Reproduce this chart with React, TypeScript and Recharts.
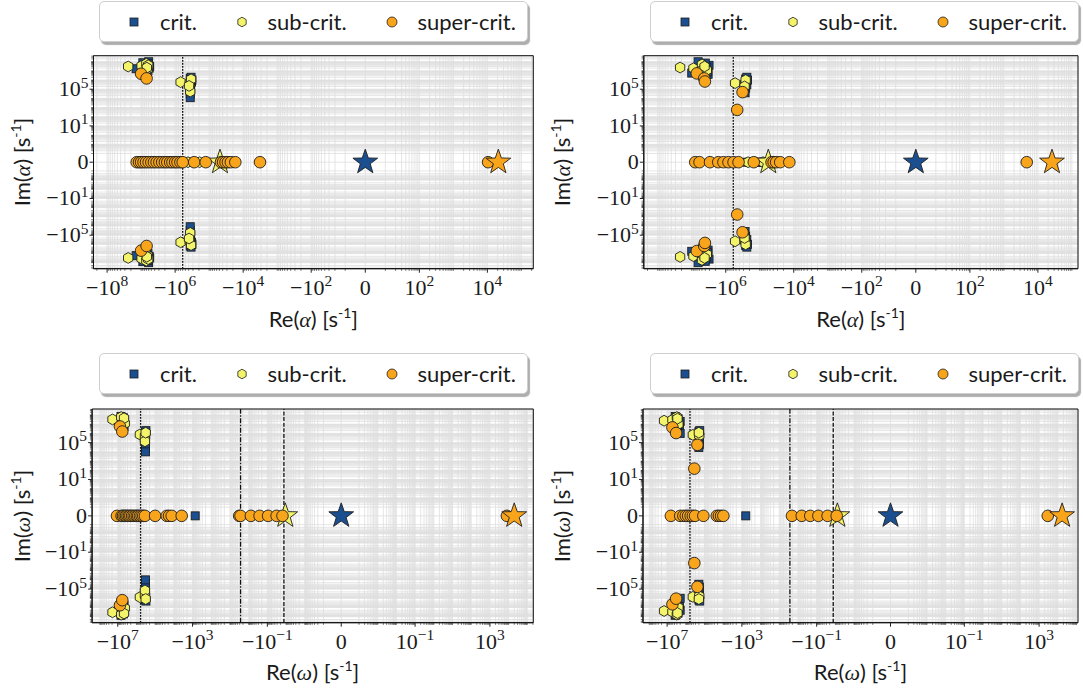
import React from "react";
import { ScatterChart, Scatter, XAxis, YAxis, CartesianGrid, ReferenceLine, ReferenceArea } from "recharts";

type Pt = [number, number];

const categories = ["crit.", "sub-crit.", "super-crit."];

// top left: alpha, first case
const alphaACrit: Pt[] = [
  [-1.4e7, 1.7e7], [-8.9e6, 7.6e7], [-7.2e6, 2.8e7], [-6.3e6, 1e7], [-7.8e6, 4.8e6], [-6e6, 9.8e7], [-6.6e6, 4.5e7], [-5.8e6, 2e7],
  [-7e6, 3.5e7], [-6.8e6, 1.5e7], [-6.2e6, 6e7], [-7.4e6, 7e6], [-5.6e6, 3e7], [-6.4e6, 2.2e7],
  [-1.4e7, -1.7e7], [-8.9e6, -7.6e7], [-7.2e6, -2.8e7], [-6.3e6, -1e7], [-7.8e6, -4.8e6], [-6e6, -9.8e7], [-6.6e6, -4.5e7], [-5.8e6, -2e7],
  [-7e6, -3.5e7], [-6.8e6, -1.5e7], [-6.2e6, -6e7], [-7.4e6, -7e6], [-5.6e6, -3e7], [-6.4e6, -2.2e7],
  [-3.6e5, 1.5e6], [-3.4e5, 8e5], [-3.6e5, 3e5], [-3.5e5, 1e5], [-3.6e5, 3e4], [-3.6e5, 1.2e4], [-3.3e5, 6e5],
  [-3.4e5, 2e6], [-3.2e5, 1e6], [-3.5e5, 4.5e5],
  [-3.6e5, -1.5e6], [-3.4e5, -8e5], [-3.6e5, -3e5], [-3.5e5, -1e5], [-3.6e5, -3e4], [-3.6e5, -1.2e4], [-3.3e5, -6e5],
  [-3.4e5, -2e6], [-3.2e5, -1e6], [-3.5e5, -4.5e5],
  [-5e5, 0], [-4e5, 0], [-3.5e5, 0],
];
const alphaASub: Pt[] = [
  [-2.4e7, 3e7], [-9.7e6, 3.5e7], [-7e6, 6e7], [-6.5e6, 1.5e7], [-7.5e6, 8e6], [-6.2e6, 4e7], [-6.8e6, 2.2e7],
  [-2.4e7, -3e7], [-9.7e6, -3.5e7], [-7e6, -6e7], [-6.5e6, -1.5e7], [-7.5e6, -8e6], [-6.2e6, -4e7], [-6.8e6, -2.2e7],
  [-6.9e5, 5.9e5], [-3.7e5, 4.7e5], [-3.6e5, 5.6e4], [-3.4e5, 1.2e6], [-3.9e5, 2.3e5],
  [-6.9e5, -5.9e5], [-3.7e5, -4.7e5], [-3.6e5, -5.6e4], [-3.4e5, -1.2e6], [-3.9e5, -2.3e5],
  [-4.2e5, 0], [-1.9e5, 0],
];
const alphaASuper: Pt[] = [
  [-1e7, 4.8e6], [-6.9e6, 1.5e6], [-1e7, -4.8e6], [-6.9e6, -1.5e6],
  [-1.35e7, 0], [-1.15e7, 0], [-1e7, 0], [-8.5e6, 0], [-7.2e6, 0], [-6e6, 0], [-5e6, 0], [-4.2e6, 0],
  [-3.5e6, 0], [-2.9e6, 0], [-2.4e6, 0], [-2e6, 0], [-1.7e6, 0], [-1.4e6, 0], [-1.2e6, 0], [-1e6, 0],
  [-8.5e5, 0], [-7e5, 0], [-6e5, 0], [-2.75e5, 0], [-1.26e5, 0], [-4.5e4, 0], [-3.9e4, 0], [-3.3e4, 0],
  [-2.8e4, 0], [-2.3e4, 0], [-1.7e4, 0], [-3.2e3, 0], [1.05e4, 0],
];
const alphaAStars: Pt[] = [[0, 0], [-4.8e4, 0], [2.1e4, 0]];

// top right: alpha, second case
const alphaBCrit: Pt[] = [
  [-1e7, 5.7e6], [-5.6e6, 6.4e7], [-4.1e6, 1.8e7], [-3.3e6, 4.2e6], [-6.5e6, 9.8e7], [-3.1e6, 4e7], [-4.8e6, 3e7],
  [-4.5e6, 5e7], [-3.6e6, 2.5e7], [-5.2e6, 1.2e7], [-3.4e6, 8e6], [-4e6, 7e7],
  [-1e7, -5.7e6], [-5.6e6, -6.4e7], [-4.1e6, -1.8e7], [-3.3e6, -4.2e6], [-6.5e6, -9.8e7], [-3.1e6, -4e7], [-4.8e6, -3e7],
  [-4.5e6, -5e7], [-3.6e6, -2.5e7], [-5.2e6, -1.2e7], [-3.4e6, -8e6], [-4e6, -7e7],
  [-2.6e5, 1.3e6], [-2.5e5, 7e5], [-2.6e5, 1.3e5], [-2.7e5, 4e4], [-2.4e5, 3e5], [-2.4e5, 2e6], [-2.3e5, 1e6],
  [-2.6e5, -1.3e6], [-2.5e5, -7e5], [-2.6e5, -1.3e5], [-2.7e5, -4e4], [-2.4e5, -3e5], [-2.4e5, -2e6], [-2.3e5, -1e6],
  [-2.4e5, 0], [-2e5, 0], [-1.1e5, 0], [-9e4, 0], [-7.5e4, 0], [-6.5e4, 0],
];
const alphaBSub: Pt[] = [
  [-2.2e7, 2.3e7], [-8.9e6, 1.9e7], [-5e6, 5e7], [-3.6e6, 1.2e7], [-6e6, 8e6], [-4.2e6, 3e7],
  [-2.2e7, -2.3e7], [-8.9e6, -1.9e7], [-5e6, -5e7], [-3.6e6, -1.2e7], [-6e6, -8e6], [-4.2e6, -3e7],
  [-5.3e5, 4.6e5], [-2.7e5, 4.6e5], [-2.6e5, 1e6], [-2.8e5, 2e5],
  [-5.3e5, -4.6e5], [-2.7e5, -4.6e5], [-2.6e5, -1e6], [-2.8e5, -2e5],
  [-2.2e5, 0], [-8e4, 0],
];
const alphaBSuper: Pt[] = [
  [-7.1e6, 5.3e6], [-4.3e6, 1.5e6], [-4.1e6, 6.9e5], [-7.1e6, -5.3e6], [-4.3e6, -1.5e6], [-4.1e6, -6.9e5],
  [-3.2e5, 4.8e4], [-4.6e5, 560], [-3.2e5, -4.8e4], [-4.6e5, -560],
  [-7.9e6, 0], [-5.9e6, 0], [-2.9e6, 0], [-1.66e6, 0], [-1.17e6, 0], [-8.3e5, 0], [-5.9e5, 0], [-4.2e5, 0],
  [-1.5e5, 0], [-4.5e4, 0], [-3.9e4, 0], [-3.3e4, 0], [-2.5e4, 0], [-1.35e4, 0], [4.7e3, 0],
];
const alphaBStars: Pt[] = [[0, 0], [-5.6e4, 0], [2.6e4, 0]];

// bottom left: omega, first case
const omegaACrit: Pt[] = [
  [-6.7e6, 7e7], [-4.6e6, 2e7], [-6e6, 4e7], [-4.6e6, 5.7e6], [-5.5e6, 1e7], [-9e6, 2.5e7],
  [-5e6, 5e7], [-4.4e6, 3e7], [-5.8e6, 1.6e7], [-4.8e6, 8e6],
  [-6.7e6, -7e7], [-4.6e6, -2e7], [-6e6, -4e7], [-4.6e6, -5.7e6], [-5.5e6, -1e7], [-9e6, -2.5e7],
  [-5e6, -5e7], [-4.4e6, -3e7], [-5.8e6, -1.6e7], [-4.8e6, -8e6],
  [-3.3e5, 1.5e6], [-3.2e5, 8e5], [-3.3e5, 3e5], [-3.3e5, 8e4], [-3.3e5, 2.5e4], [-3.3e5, 1e4], [-3.1e5, 2e6],
  [-3.3e5, -1.5e6], [-3.2e5, -8e5], [-3.3e5, -3e5], [-3.3e5, -8e4], [-3.3e5, -2.5e4], [-3.3e5, -1e4], [-3.1e5, -2e6],
  [-720, 0],
];
const omegaASub: Pt[] = [
  [-1.9e7, 3.3e7], [-5e6, 3.3e7], [-6.5e6, 6e7], [-4.2e6, 1.2e7], [-4.6e6, 4.5e7],
  [-1.9e7, -3.3e7], [-5e6, -3.3e7], [-6.5e6, -6e7], [-4.2e6, -1.2e7], [-4.6e6, -4.5e7],
  [-6.5e5, 7.6e5], [-3.5e5, 5e5], [-3.5e5, 1.4e5], [-3.2e5, 1.2e6],
  [-6.5e5, -7.6e5], [-3.5e5, -5e5], [-3.5e5, -1.4e5], [-3.2e5, -1.2e6],
];
const omegaASuper: Pt[] = [
  [-7.6e6, 5.7e6], [-5.7e6, 1.6e6], [-7.6e6, -5.7e6], [-5.7e6, -1.6e6],
  [-1.1e7, 0], [-6.2e6, 0], [-5.2e6, 0], [-4.3e6, 0], [-3.6e6, 0], [-3e6, 0], [-2.5e6, 0], [-2.1e6, 0],
  [-1.7e6, 0], [-1.4e6, 0], [-1.15e6, 0], [-9.5e5, 0], [-8e5, 0], [-6.5e5, 0], [-5.3e5, 0], [-4.3e5, 0],
  [-3.5e5, 0], [-1e5, 0], [-2.4e4, 0], [-1.8e4, 0], [-1.3e4, 0], [-3.8e3, 0],
  [-3.2, 0], [-2.7, 0], [-0.76, 0], [-0.26, 0], [-0.091, 0], [-0.032, 0], [-0.0155, 0], [8.1e3, 0],
];
const omegaAStars: Pt[] = [[0, 0], [-0.011, 0], [2e4, 0]];

// bottom right: omega, second case
const omegaBCrit: Pt[] = [
  [-3.7e6, 7e7], [-2e6, 2e7], [-2.6e6, 4e7], [-5.4e6, 1e7], [-2.2e6, 4.5e6], [-2e6, 1e6],
  [-3e6, 3e7], [-2.4e6, 1.2e7], [-3.3e6, 5e7], [-2.8e6, 7e6],
  [-3.7e6, -7e7], [-2e6, -2e7], [-2.6e6, -4e7], [-5.4e6, -1e7], [-2.2e6, -4.5e6], [-2e6, -1e6],
  [-3e6, -3e7], [-2.4e6, -1.2e7], [-3.3e6, -5e7], [-2.8e6, -7e6],
  [-2e5, 1.5e6], [-1.9e5, 5e5], [-1.9e5, 1.5e5], [-1.9e5, 6e4], [-2e5, 3e4], [-1.8e5, 2e6],
  [-2e5, -1.5e6], [-1.9e5, -5e5], [-1.9e5, -1.5e5], [-1.9e5, -6e4], [-2e5, -3e4], [-1.8e5, -2e6],
  [-620, 0],
];
const omegaBSub: Pt[] = [
  [-1.45e7, 2.4e7], [-5.2e6, 3e7], [-3e6, 6e7], [-2.5e6, 1e7], [-2.8e6, 4e7],
  [-1.45e7, -2.4e7], [-5.2e6, -3e7], [-3e6, -6e7], [-2.5e6, -1e7], [-2.8e6, -4e7],
  [-4.2e5, 7e5], [-1.9e5, 6e5], [-2e5, 1.2e6],
  [-4.2e5, -7e5], [-1.9e5, -6e5], [-2e5, -1.2e6],
];
const omegaBSuper: Pt[] = [
  [-5.2e6, 4.5e6], [-3.3e6, 1.1e6], [-5.2e6, -4.5e6], [-3.3e6, -1.1e6],
  [-2.4e5, 5.7e4], [-3.5e5, 150], [-2.4e5, -5.7e4], [-3.5e5, -150],
  [-6.3e6, 0], [-2e6, 0], [-1.35e6, 0], [-1e6, 0], [-7.5e5, 0], [-5.5e5, 0], [-4.2e5, 0], [-3.2e5, 0],
  [-1.15e5, 0], [-2.2e4, 0], [-1.7e4, 0], [-1.3e4, 0], [-9.8e3, 0],
  [-2.1, 0], [-0.63, 0], [-0.22, 0], [-0.081, 0], [-0.026, 0], [-0.0085, 0], [2.9e3, 0],
];
const omegaBStars: Pt[] = [[0, 0], [-0.0078, 0], [1.7e4, 0]];

const alphaLines = [-6e5];
const omegaLines = [-6e5, -2.7, -0.013];
const lineDash = ["1.6 1.4", "5 1.5 1.5 1.5", "4 1.6"];

const alphaXLabelsA = [-1e8, -1e6, -1e4, -1e2, 0, 1e2, 1e4];
const alphaXLabelsB = [-1e6, -1e4, -1e2, 0, 1e2, 1e4];
const omegaXLabels = [-1e7, -1e3, -1e-1, 0, 1e-1, 1e3];
const imLabels = [1e5, 10, 0, -10, -1e5];

const BLUE = "#1b4f8f";
const YELLOW = "#f4f46a";
const ORANGE = "#f9a51b";
const EDGE = "#1e1e1e";
const colors = [BLUE, YELLOW, ORANGE];

function symlog(c: number, L: number) {
  return (v: number) => {
    const a = Math.abs(v);
    if (a < c) return (v / c) * L;
    return Math.sign(v) * (L + Math.log10(a / c));
  };
}
const txAlpha = symlog(10, 0.59);
const txOmega = symlog(1e-4, 0.95);
const tyIm = symlog(0.01, 0.95);

type TickInfo = { d: number; v: number; major: boolean };

function buildTicks(tf: (v: number) => number, decades: [number, number], labels: number[], dom: [number, number]) {
  const map = new Map<string, TickInfo>();
  const add = (v: number, major: boolean) => {
    const d = tf(v);
    if (d < dom[0] - 1e-9 || d > dom[1] + 1e-9) return;
    const key = d.toFixed(5);
    if (major || !map.has(key)) map.set(key, { d, v, major });
  };
  for (let k = decades[0]; k <= decades[1]; k++) {
    for (let m = 1; m <= 9; m++) {
      add(m * Math.pow(10, k), false);
      add(-m * Math.pow(10, k), false);
    }
  }
  labels.forEach((v) => add(v, true));
  return map;
}

function TickText({ x, y, v, anchor }: { x: number; y: number; v: number; anchor: "middle" | "end" }) {
  const style = { fontFamily: "'Liberation Serif', serif", fontSize: 22, fill: "#1a1a1a" };
  if (v === 0) {
    return <text x={x} y={y} textAnchor={anchor} style={style}>0</text>;
  }
  const e = Math.round(Math.log10(Math.abs(v)));
  return (
    <text x={x} y={y} textAnchor={anchor} style={style}>
      <tspan>{v < 0 ? "\u2212" : ""}10</tspan>
      <tspan dy={-8.5} fontSize={15.5}>{e < 0 ? "\u2212" + -e : String(e)}</tspan>
    </text>
  );
}

const squareShape = (p: any) => (
  <rect x={p.cx - 4} y={p.cy - 4} width={8} height={8} fill={BLUE} stroke={EDGE} strokeWidth={0.9} />
);
const hexPoints = (cx: number, cy: number, r: number) =>
  [0, 1, 2, 3, 4, 5].map((i) => {
    const a = ((-90 + 60 * i) * Math.PI) / 180;
    return `${cx + r * Math.cos(a)},${cy + r * Math.sin(a)}`;
  }).join(" ");
const hexShape = (p: any) => (
  <polygon points={hexPoints(p.cx, p.cy, 5.4)} fill={YELLOW} stroke={EDGE} strokeWidth={0.9} />
);
const circleShape = (p: any) => (
  <circle cx={p.cx} cy={p.cy} r={5.8} fill={ORANGE} stroke={EDGE} strokeWidth={0.9} />
);
const starPoints = (cx: number, cy: number, R: number) =>
  Array.from({ length: 10 }, (_, i) => {
    const r = i % 2 === 0 ? R : R * 0.4;
    const a = ((-90 + 36 * i) * Math.PI) / 180;
    return `${cx + r * Math.cos(a)},${cy + r * Math.sin(a)}`;
  }).join(" ");
const starShape = (fill: string) => (p: any) => (
  <polygon points={starPoints(p.cx, p.cy, 13)} fill={fill} stroke={EDGE} strokeWidth={0.9} />
);

interface PanelCfg {
  left: number; top: number; width: number; height: number;
  plot: { l: number; r: number; t: number; b: number };
  xDom: [number, number]; yDom: [number, number];
  tx: (v: number) => number;
  xDecades: [number, number];
  xLabels: number[];
  crit: Pt[]; sub: Pt[]; sup: Pt[]; stars: Pt[];
  lines: number[];
  sym: string;
  legendLeft: number; legendTop: number;
  xLabelY: number;
}

const panels: PanelCfg[] = [
  {
    left: 0, top: 0, width: 540, height: 340, plot: { l: 93.5, r: 533.3, t: 55.7, b: 268.7 },
    xDom: [-7.99, 4.94], yDom: [-11.6, 11.6], tx: txAlpha, xDecades: [1, 8], xLabels: alphaXLabelsA,
    crit: alphaACrit, sub: alphaASub, sup: alphaASuper, stars: alphaAStars, lines: alphaLines, sym: "\u03b1",
    legendLeft: 99, legendTop: 1, xLabelY: 319,
  },
  {
    left: 540, top: 0, width: 543, height: 340, plot: { l: 643.8, r: 1078, t: 55.7, b: 268.7 },
    xDom: [-8.0, 4.77], yDom: [-11.6, 11.6], tx: txAlpha, xDecades: [1, 8], xLabels: alphaXLabelsB,
    crit: alphaBCrit, sub: alphaBSub, sup: alphaBSuper, stars: alphaBStars, lines: alphaLines, sym: "\u03b1",
    legendLeft: 650, legendTop: 1, xLabelY: 319,
  },
  {
    left: 0, top: 340, width: 540, height: 350, plot: { l: 92.1, r: 533.3, t: 409, b: 622.7 },
    xDom: [-13.32, 10.27], yDom: [-11.6, 11.6], tx: txOmega, xDecades: [-4, 7], xLabels: omegaXLabels,
    crit: omegaACrit, sub: omegaASub, sup: omegaASuper, stars: omegaAStars, lines: omegaLines, sym: "\u03c9",
    legendLeft: 99, legendTop: 353, xLabelY: 672,
  },
  {
    left: 540, top: 340, width: 543, height: 350, plot: { l: 643, r: 1078, t: 409, b: 622.7 },
    xDom: [-13.24, 10.03], yDom: [-11.6, 11.6], tx: txOmega, xDecades: [-4, 7], xLabels: omegaXLabels,
    crit: omegaBCrit, sub: omegaBSub, sup: omegaBSuper, stars: omegaBStars, lines: omegaLines, sym: "\u03c9",
    legendLeft: 650, legendTop: 353, xLabelY: 672,
  },
];

const labelFont = "Lato, 'Open Sans', sans-serif";

function LegendBox({ left, top }: { left: number; top: number }) {
  const markerX = [34, 141.5, 291.5];
  const textX = [60, 167.5, 317.5];
  return (
    <div
      style={{
        position: "absolute", left, top, width: 429, height: 41, boxSizing: "border-box",
        border: "1px solid #cfcfcf", borderRadius: 5, background: "#fff",
        boxShadow: "2px 3px 1px rgba(0,0,0,0.32)", fontFamily: labelFont, fontSize: 22, color: "#1a1a1a",
      }}
    >
      {categories.map((name, i) => (
        <React.Fragment key={name}>
          <svg style={{ position: "absolute", left: markerX[i] - 7, top: 13 }} width={14} height={14}>
            {i === 0 && <rect x={3} y={3} width={8} height={8} fill={colors[0]} stroke={EDGE} strokeWidth={0.8} />}
            {i === 1 && <polygon points={hexPoints(7, 7, 4.8)} fill={colors[1]} stroke={EDGE} strokeWidth={0.8} />}
            {i === 2 && <circle cx={7} cy={7} r={5} fill={colors[2]} stroke={EDGE} strokeWidth={0.8} />}
          </svg>
          <span style={{ position: "absolute", left: textX[i], top: 0, lineHeight: "39px", whiteSpace: "nowrap" }}>{name}</span>
        </React.Fragment>
      ))}
    </div>
  );
}

function AxisTitle({ part, sym }: { part: string; sym: string }) {
  return (
    <>
      {part}(<span style={{ fontFamily: "'Liberation Serif', serif", fontStyle: "italic" }}>{sym}</span>) [s
      <span style={{ fontSize: 14, position: "relative", top: -9 }}>-1</span>]
    </>
  );
}

function Panel({ cfg }: { cfg: PanelCfg }) {
  const xTicks = buildTicks(cfg.tx, cfg.xDecades, cfg.xLabels, cfg.xDom);
  const yTicks = buildTicks(tyIm, [-2, 8], imLabels, cfg.yDom);
  const toXY = (pts: Pt[]) => pts.map(([re, im]) => ({ x: cfg.tx(re), y: tyIm(im) }));
  const margin = { top: cfg.plot.t - cfg.top, right: cfg.left + cfg.width - cfg.plot.r, bottom: 0, left: 0 };
  const yW = cfg.plot.l - cfg.left;
  const xH = cfg.top + cfg.height - cfg.plot.b;
  const cx = (cfg.plot.l + cfg.plot.r) / 2;
  const cy = (cfg.plot.t + cfg.plot.b) / 2;

  const xTick = (p: any) => {
    const info = xTicks.get(Number(p.payload.value).toFixed(5));
    const major = !!(info && info.major);
    return (
      <g>
        <line x1={p.x} x2={p.x} y1={p.y} y2={p.y + (major ? 4 : 2.2)} stroke="#222" strokeWidth={major ? 1 : 0.6} />
        {major && info && <TickText x={p.x} y={p.y + 26} v={info.v} anchor="middle" />}
      </g>
    );
  };
  const yTick = (p: any) => {
    const info = yTicks.get(Number(p.payload.value).toFixed(5));
    const major = !!(info && info.major);
    return (
      <g>
        <line x1={p.x} x2={p.x - (major ? 4 : 2.2)} y1={p.y} y2={p.y} stroke="#222" strokeWidth={major ? 1 : 0.6} />
        {major && info && <TickText x={p.x - 5} y={p.y + 7} v={info.v} anchor="end" />}
      </g>
    );
  };

  return (
    <>
      <div style={{ position: "absolute", left: cfg.left, top: cfg.top }}>
        <ScatterChart width={cfg.width} height={cfg.height} margin={margin}>
          <CartesianGrid stroke="#dedede" strokeWidth={0.8} />
          <XAxis
            type="number" dataKey="x" domain={cfg.xDom} allowDataOverflow
            ticks={Array.from(xTicks.values()).map((t) => t.d)} interval={0}
            tick={xTick} tickLine={false} tickSize={0} tickMargin={0} height={xH}
            axisLine={{ stroke: "#111" }}
          />
          <YAxis
            type="number" dataKey="y" domain={cfg.yDom} allowDataOverflow
            ticks={Array.from(yTicks.values()).map((t) => t.d)} interval={0}
            tick={yTick} tickLine={false} tickSize={0} tickMargin={0} width={yW}
            axisLine={{ stroke: "#111" }}
          />
          <Scatter data={toXY(cfg.crit)} shape={squareShape} isAnimationActive={false} />
          <Scatter data={toXY(cfg.stars.slice(0, 1))} shape={starShape(BLUE)} isAnimationActive={false} />
          <Scatter data={toXY(cfg.sub)} shape={hexShape} isAnimationActive={false} />
          <Scatter data={toXY(cfg.stars.slice(1, 2))} shape={starShape(YELLOW)} isAnimationActive={false} />
          <Scatter data={toXY(cfg.sup)} shape={circleShape} isAnimationActive={false} />
          <Scatter data={toXY(cfg.stars.slice(2, 3))} shape={starShape(ORANGE)} isAnimationActive={false} />
          {cfg.lines.map((v, i) => (
            <ReferenceLine key={i} x={cfg.tx(v)} stroke="#111" strokeWidth={1.3} strokeDasharray={lineDash[i]} />
          ))}
          <ReferenceArea x1={cfg.xDom[0]} x2={cfg.xDom[1]} y1={cfg.yDom[0]} y2={cfg.yDom[1]} fill="none" stroke="#111" strokeWidth={1} />
        </ScatterChart>
      </div>
      <LegendBox left={cfg.legendLeft} top={cfg.legendTop} />
      <div
        style={{
          position: "absolute", left: cx - 120, width: 240, top: cfg.xLabelY - 14, height: 28, lineHeight: "28px",
          textAlign: "center", fontFamily: labelFont, fontSize: 22, color: "#1a1a1a", whiteSpace: "nowrap",
        }}
      >
        <AxisTitle part="Re" sym={cfg.sym} />
      </div>
      <div
        style={{
          position: "absolute", left: cfg.left + 22 - 120, width: 240, top: cy - 14, height: 28, lineHeight: "28px",
          textAlign: "center", fontFamily: labelFont, fontSize: 22, color: "#1a1a1a", whiteSpace: "nowrap",
          transform: "rotate(-90deg)",
        }}
      >
        <AxisTitle part="Im" sym={cfg.sym} />
      </div>
    </>
  );
}

export default function App() {
  return (
    <div style={{ position: "absolute", left: 0, top: 0, width: 1083, height: 690, background: "#fff", overflow: "hidden" }}>
      {panels.map((p, i) => (
        <Panel key={i} cfg={p} />
      ))}
    </div>
  );
}
